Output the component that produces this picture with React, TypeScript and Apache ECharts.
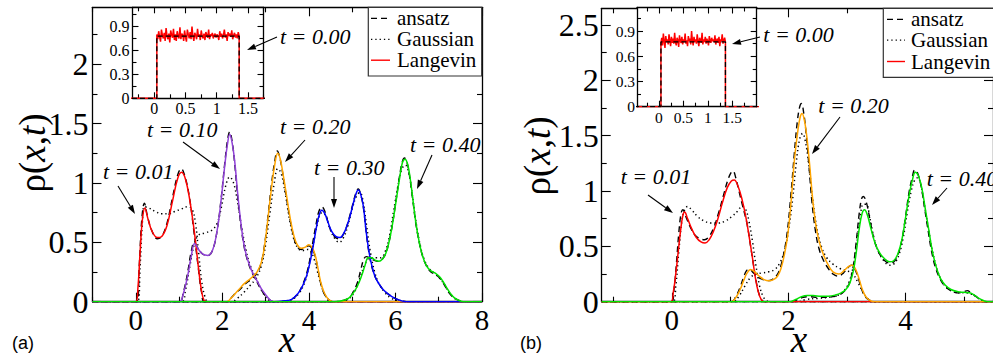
import React, { useEffect, useRef } from 'react';
import * as echarts from 'echarts';

type P = [number, number];

// ---------- Panel (a) data ----------
const aLang001: P[] = [[-1,0],[0,0],[0.05,0.12],[0.1,0.42],[0.15,0.68],[0.21,0.79],[0.28,0.7],[0.38,0.59],[0.5,0.54],[0.6,0.55],[0.72,0.64],[0.85,0.85],[0.97,1.04],[1.06,1.09],[1.15,1.03],[1.25,0.85],[1.36,0.57],[1.45,0.28],[1.52,0.09],[1.58,0.01],[1.65,0],[8,0]];
const aAns001: P[] = [[-1,0],[0.02,0],[0.08,0.3],[0.14,0.7],[0.2,0.83],[0.27,0.72],[0.37,0.6],[0.5,0.53],[0.6,0.55],[0.72,0.66],[0.85,0.88],[0.97,1.07],[1.05,1.12],[1.14,1.05],[1.24,0.88],[1.34,0.6],[1.44,0.3],[1.52,0.08],[1.6,0],[8,0]];
const aGau001: P[] = [[-1,0],[0.04,0],[0.1,0.3],[0.15,0.65],[0.2,0.8],[0.3,0.79],[0.45,0.76],[0.6,0.74],[0.75,0.74],[0.9,0.76],[1.05,0.78],[1.2,0.8],[1.3,0.78],[1.38,0.66],[1.45,0.42],[1.52,0.18],[1.6,0.04],[1.68,0],[8,0]];

const aLang010: P[] = [[-1,0],[1.0,0],[1.1,0.07],[1.2,0.22],[1.28,0.38],[1.36,0.49],[1.45,0.44],[1.55,0.4],[1.67,0.39],[1.78,0.44],[1.88,0.6],[1.97,0.85],[2.06,1.16],[2.12,1.33],[2.17,1.41],[2.23,1.33],[2.29,1.17],[2.35,0.93],[2.42,0.69],[2.5,0.48],[2.58,0.36],[2.68,0.26],[2.78,0.19],[2.9,0.11],[3.02,0.05],[3.12,0.01],[3.2,0],[8,0]];
const aAns010: P[] = [[-1,0],[1.0,0],[1.1,0.08],[1.2,0.25],[1.28,0.42],[1.35,0.5],[1.44,0.45],[1.55,0.4],[1.67,0.39],[1.78,0.44],[1.88,0.6],[1.97,0.86],[2.06,1.18],[2.12,1.36],[2.17,1.43],[2.23,1.34],[2.29,1.15],[2.35,0.9],[2.42,0.67],[2.5,0.47],[2.58,0.35],[2.68,0.25],[2.78,0.18],[2.9,0.1],[3.02,0.04],[3.12,0.01],[3.2,0],[8,0]];
const aGau010: P[] = [[-1,0],[1.05,0],[1.15,0.1],[1.25,0.3],[1.35,0.48],[1.45,0.56],[1.6,0.58],[1.75,0.6],[1.88,0.66],[1.98,0.8],[2.08,0.98],[2.17,1.05],[2.26,1.0],[2.35,0.84],[2.45,0.62],[2.55,0.43],[2.65,0.3],[2.78,0.2],[2.9,0.1],[3.02,0.03],[3.12,0],[8,0]];

const aLang020: P[] = [[-1,0],[2.1,0],[2.2,0.03],[2.3,0.07],[2.4,0.11],[2.5,0.15],[2.6,0.18],[2.7,0.21],[2.8,0.25],[2.9,0.33],[2.98,0.48],[3.06,0.72],[3.14,0.97],[3.21,1.15],[3.28,1.25],[3.34,1.2],[3.41,1.06],[3.49,0.88],[3.57,0.7],[3.65,0.56],[3.73,0.48],[3.82,0.45],[3.92,0.46],[4.0,0.48],[4.07,0.46],[4.14,0.4],[4.2,0.3],[4.27,0.17],[4.35,0.08],[4.45,0.02],[4.55,0],[8,0]];
const aAns020: P[] = [[-1,0],[2.12,0],[2.2,0.03],[2.3,0.07],[2.4,0.1],[2.5,0.14],[2.6,0.17],[2.7,0.2],[2.8,0.24],[2.9,0.33],[2.98,0.49],[3.06,0.74],[3.14,1.0],[3.21,1.18],[3.27,1.27],[3.33,1.21],[3.4,1.07],[3.48,0.88],[3.56,0.7],[3.64,0.56],[3.72,0.47],[3.82,0.44],[3.92,0.46],[4.0,0.47],[4.07,0.45],[4.14,0.39],[4.2,0.29],[4.27,0.16],[4.35,0.07],[4.45,0.02],[4.55,0],[8,0]];
const aGau020: P[] = [[-1,0],[2.2,0],[2.35,0.03],[2.5,0.08],[2.65,0.14],[2.78,0.2],[2.9,0.3],[3.0,0.48],[3.1,0.75],[3.2,1.0],[3.28,1.12],[3.36,1.08],[3.45,0.92],[3.55,0.7],[3.65,0.53],[3.75,0.45],[3.85,0.43],[3.95,0.44],[4.03,0.43],[4.12,0.36],[4.2,0.25],[4.3,0.12],[4.4,0.04],[4.5,0],[8,0]];

const aLang030: P[] = [[-1,0],[3.2,0],[3.4,0.005],[3.6,0.02],[3.75,0.07],[3.85,0.13],[3.95,0.22],[4.03,0.34],[4.1,0.47],[4.17,0.62],[4.23,0.72],[4.3,0.77],[4.37,0.74],[4.45,0.66],[4.53,0.59],[4.62,0.55],[4.72,0.54],[4.81,0.58],[4.88,0.64],[4.95,0.72],[5.02,0.82],[5.09,0.91],[5.14,0.94],[5.2,0.9],[5.26,0.8],[5.32,0.6],[5.38,0.44],[5.45,0.31],[5.53,0.21],[5.62,0.15],[5.72,0.1],[5.85,0.06],[5.98,0.03],[6.12,0.01],[6.25,0],[8,0]];
const aAns030: P[] = [[-1,0],[3.2,0],[3.4,0.005],[3.6,0.02],[3.75,0.07],[3.85,0.14],[3.95,0.24],[4.03,0.37],[4.1,0.52],[4.17,0.66],[4.23,0.76],[4.3,0.8],[4.37,0.76],[4.45,0.66],[4.53,0.58],[4.62,0.54],[4.7,0.53],[4.8,0.57],[4.88,0.64],[4.95,0.73],[5.02,0.83],[5.09,0.92],[5.14,0.95],[5.2,0.9],[5.26,0.79],[5.32,0.6],[5.38,0.43],[5.45,0.3],[5.53,0.21],[5.62,0.15],[5.72,0.1],[5.85,0.06],[5.98,0.03],[6.12,0.01],[6.25,0],[8,0]];
const aGau030: P[] = [[-1,0],[3.3,0],[3.55,0.01],[3.75,0.06],[3.9,0.16],[4.0,0.3],[4.1,0.48],[4.2,0.66],[4.3,0.75],[4.38,0.73],[4.48,0.62],[4.6,0.53],[4.7,0.5],[4.8,0.54],[4.9,0.64],[5.0,0.78],[5.1,0.89],[5.18,0.92],[5.25,0.85],[5.33,0.65],[5.42,0.42],[5.52,0.25],[5.62,0.15],[5.75,0.08],[5.9,0.03],[6.05,0.01],[6.2,0],[8,0]];

const aLang040: P[] = [[-1,0],[4.6,0],[4.79,0.01],[4.92,0.03],[5.02,0.07],[5.12,0.13],[5.22,0.22],[5.3,0.31],[5.37,0.37],[5.45,0.37],[5.53,0.35],[5.62,0.34],[5.7,0.36],[5.78,0.41],[5.85,0.5],[5.93,0.65],[6.02,0.86],[6.1,1.05],[6.16,1.17],[6.22,1.2],[6.28,1.16],[6.34,1.04],[6.4,0.87],[6.47,0.67],[6.55,0.5],[6.63,0.38],[6.72,0.3],[6.82,0.26],[6.92,0.24],[7.02,0.21],[7.1,0.17],[7.18,0.12],[7.27,0.07],[7.37,0.03],[7.47,0.01],[7.57,0],[8,0]];
const aAns040: P[] = [[-1,0],[4.6,0],[4.79,0.01],[4.92,0.03],[5.02,0.08],[5.12,0.16],[5.2,0.27],[5.27,0.36],[5.33,0.38],[5.4,0.37],[5.5,0.35],[5.6,0.34],[5.7,0.36],[5.78,0.41],[5.85,0.5],[5.93,0.65],[6.02,0.87],[6.1,1.07],[6.16,1.18],[6.21,1.21],[6.27,1.17],[6.33,1.05],[6.4,0.86],[6.47,0.66],[6.55,0.5],[6.63,0.38],[6.72,0.3],[6.82,0.25],[6.92,0.23],[7.02,0.2],[7.1,0.16],[7.18,0.11],[7.27,0.06],[7.37,0.03],[7.47,0.01],[7.57,0],[8,0]];
const aGau040: P[] = [[-1,0],[4.7,0],[4.9,0.02],[5.05,0.08],[5.18,0.2],[5.3,0.32],[5.42,0.37],[5.55,0.37],[5.66,0.37],[5.76,0.42],[5.86,0.55],[5.96,0.77],[6.06,0.98],[6.15,1.12],[6.23,1.15],[6.31,1.08],[6.39,0.9],[6.48,0.66],[6.57,0.48],[6.67,0.35],[6.78,0.28],[6.9,0.24],[7.02,0.2],[7.12,0.15],[7.22,0.09],[7.33,0.04],[7.45,0.01],[7.58,0],[8,0]];

// ---------- Panel (b) data ----------
const bLang001: P[] = [[-1.2,0],[-0.02,0],[0.03,0.1],[0.07,0.26],[0.11,0.45],[0.15,0.64],[0.19,0.78],[0.22,0.81],[0.27,0.75],[0.34,0.66],[0.42,0.58],[0.5,0.54],[0.57,0.53],[0.64,0.56],[0.71,0.63],[0.79,0.75],[0.87,0.9],[0.95,1.03],[1.02,1.09],[1.07,1.1],[1.13,1.05],[1.2,0.93],[1.27,0.76],[1.33,0.57],[1.38,0.4],[1.43,0.22],[1.48,0.09],[1.53,0.02],[1.58,0],[5.5,0]];
const bAns001: P[] = [[-1.2,0],[-0.01,0],[0.04,0.12],[0.08,0.35],[0.12,0.62],[0.16,0.8],[0.19,0.83],[0.24,0.77],[0.32,0.67],[0.4,0.6],[0.48,0.57],[0.56,0.56],[0.64,0.59],[0.72,0.67],[0.8,0.8],[0.88,0.95],[0.96,1.1],[1.02,1.17],[1.05,1.18],[1.09,1.13],[1.15,1.0],[1.22,0.85],[1.29,0.7],[1.35,0.5],[1.4,0.33],[1.45,0.17],[1.5,0.06],[1.55,0.01],[1.6,0],[5.5,0]];
const bGau001: P[] = [[-1.2,0],[0.02,0],[0.07,0.15],[0.12,0.45],[0.17,0.72],[0.22,0.83],[0.27,0.86],[0.34,0.83],[0.44,0.77],[0.55,0.73],[0.67,0.71],[0.8,0.71],[0.92,0.73],[1.03,0.77],[1.13,0.82],[1.2,0.86],[1.26,0.84],[1.32,0.73],[1.38,0.55],[1.44,0.33],[1.5,0.15],[1.56,0.05],[1.62,0.01],[1.68,0],[5.5,0]];

const bLang020: P[] = [[-1.2,0],[1.02,0],[1.1,0.04],[1.17,0.11],[1.23,0.19],[1.29,0.26],[1.35,0.29],[1.42,0.27],[1.5,0.23],[1.58,0.2],[1.66,0.19],[1.74,0.2],[1.81,0.23],[1.87,0.3],[1.93,0.43],[1.99,0.62],[2.05,0.95],[2.1,1.28],[2.16,1.55],[2.2,1.67],[2.23,1.7],[2.27,1.64],[2.31,1.5],[2.36,1.24],[2.41,0.94],[2.47,0.68],[2.53,0.53],[2.6,0.42],[2.68,0.33],[2.76,0.27],[2.86,0.25],[2.95,0.28],[3.03,0.32],[3.09,0.33],[3.15,0.29],[3.21,0.2],[3.27,0.1],[3.33,0.04],[3.4,0.01],[3.47,0],[5.5,0]];
const bAns020: P[] = [[-1.2,0],[1.02,0],[1.1,0.05],[1.17,0.13],[1.23,0.22],[1.28,0.28],[1.33,0.29],[1.4,0.26],[1.48,0.22],[1.56,0.2],[1.64,0.19],[1.72,0.2],[1.8,0.24],[1.86,0.31],[1.92,0.44],[1.98,0.64],[2.04,0.97],[2.1,1.35],[2.15,1.63],[2.19,1.76],[2.22,1.79],[2.26,1.7],[2.3,1.52],[2.35,1.22],[2.4,0.9],[2.46,0.64],[2.52,0.48],[2.6,0.37],[2.68,0.3],[2.76,0.25],[2.85,0.23],[2.94,0.26],[3.02,0.31],[3.08,0.33],[3.14,0.29],[3.2,0.2],[3.26,0.1],[3.32,0.04],[3.4,0.01],[3.47,0],[5.5,0]];
const bGau020: P[] = [[-1.2,0],[1.05,0],[1.15,0.05],[1.25,0.14],[1.35,0.22],[1.45,0.25],[1.55,0.26],[1.66,0.27],[1.76,0.29],[1.85,0.35],[1.93,0.46],[2.0,0.65],[2.07,0.93],[2.13,1.25],[2.19,1.47],[2.24,1.52],[2.29,1.44],[2.35,1.22],[2.41,0.94],[2.48,0.68],[2.56,0.5],[2.65,0.4],[2.76,0.34],[2.88,0.3],[3.0,0.28],[3.1,0.25],[3.19,0.17],[3.27,0.09],[3.35,0.03],[3.43,0],[5.5,0]];

const bLang040: P[] = [[-1.2,0],[2.03,0],[2.12,0.02],[2.22,0.045],[2.32,0.055],[2.42,0.055],[2.55,0.05],[2.68,0.05],[2.8,0.06],[2.9,0.08],[2.98,0.11],[3.05,0.17],[3.11,0.28],[3.16,0.45],[3.21,0.66],[3.26,0.8],[3.3,0.83],[3.35,0.78],[3.41,0.66],[3.48,0.53],[3.56,0.44],[3.64,0.39],[3.73,0.36],[3.8,0.37],[3.87,0.43],[3.94,0.56],[4.0,0.75],[4.06,0.95],[4.12,1.1],[4.17,1.17],[4.22,1.14],[4.28,1.03],[4.34,0.84],[4.4,0.65],[4.46,0.46],[4.53,0.31],[4.6,0.21],[4.68,0.15],[4.78,0.11],[4.9,0.09],[5.0,0.085],[5.1,0.08],[5.18,0.06],[5.26,0.03],[5.34,0.01],[5.4,0],[5.5,0]];
const bAns040: P[] = [[-1.2,0],[2.05,0],[2.15,0.02],[2.25,0.04],[2.35,0.045],[2.5,0.04],[2.65,0.04],[2.8,0.05],[2.9,0.07],[2.98,0.11],[3.05,0.18],[3.11,0.33],[3.16,0.55],[3.21,0.8],[3.25,0.93],[3.28,0.95],[3.33,0.9],[3.39,0.75],[3.46,0.57],[3.54,0.45],[3.63,0.38],[3.72,0.35],[3.8,0.36],[3.87,0.42],[3.94,0.56],[4.0,0.76],[4.06,0.98],[4.12,1.13],[4.16,1.19],[4.21,1.16],[4.27,1.04],[4.33,0.84],[4.39,0.64],[4.45,0.45],[4.52,0.3],[4.6,0.2],[4.68,0.14],[4.78,0.1],[4.9,0.08],[5.0,0.09],[5.06,0.1],[5.12,0.08],[5.2,0.05],[5.28,0.02],[5.36,0],[5.5,0]];
const bGau040: P[] = [[-1.2,0],[2.15,0],[2.3,0.02],[2.5,0.03],[2.7,0.04],[2.85,0.06],[2.95,0.1],[3.03,0.17],[3.1,0.3],[3.16,0.5],[3.22,0.74],[3.28,0.88],[3.33,0.88],[3.39,0.76],[3.46,0.58],[3.54,0.45],[3.63,0.37],[3.72,0.33],[3.8,0.34],[3.88,0.41],[3.96,0.57],[4.03,0.8],[4.1,1.0],[4.16,1.1],[4.21,1.12],[4.27,1.04],[4.33,0.86],[4.4,0.64],[4.47,0.44],[4.55,0.28],[4.63,0.18],[4.72,0.12],[4.82,0.09],[4.93,0.08],[5.03,0.08],[5.12,0.07],[5.2,0.05],[5.28,0.02],[5.36,0],[5.5,0]];

// ---------- Insets (t = 0.00) ----------
const insetEdges: P = [0.04, 1.36];
const insetStepA = 0.78;
const insetStepB = 0.77;
const noiseA = [0.80,0.74,0.84,0.77,0.71,0.86,0.79,0.75,0.82,0.72,0.88,0.78,0.74,0.81,0.70,0.85,0.79,0.76,0.87,0.73,0.80,0.72,0.84,0.78,0.75,0.89,0.74,0.81,0.79,0.72,0.85,0.77,0.71,0.86,0.80,0.75,0.83,0.74,0.90,0.78,0.72,0.82,0.79,0.74,0.87,0.77,0.80,0.73,0.85,0.78,0.75,0.81,0.73,0.83,0.79,0.76,0.86,0.74,0.80,0.78,0.82,0.75,0.79,0.81,0.76,0.80,0.78,0.73,0.84,0.77,0.81,0.75,0.79,0.86,0.76,0.80,0.72,0.83,0.78,0.81,0.77,0.85,0.74,0.79,0.82,0.76,0.80,0.75,0.83,0.78];
const noiseB = [0.76,0.82,0.73,0.87,0.78,0.70,0.84,0.77,0.80,0.74,0.86,0.79,0.72,0.83,0.76,0.81,0.75,0.88,0.77,0.73,0.82,0.79,0.71,0.85,0.78,0.76,0.83,0.74,0.80,0.77,0.87,0.75,0.79,0.72,0.84,0.78,0.81,0.74,0.90,0.79,0.73,0.83,0.77,0.80,0.75,0.86,0.78,0.72,0.82,0.79,0.76,0.88,0.74,0.80,0.77,0.83,0.75,0.81,0.78,0.73,0.84,0.79,0.76,0.82,0.78,0.80,0.77,0.85,0.74,0.79,0.81,0.76,0.83,0.72,0.80,0.78,0.86,0.75,0.79,0.82,0.77];

// ---------- Ticks ----------
const aXLabels = [0, 2, 4, 6, 8];
const aXMinor = [-1, 1, 3, 5, 7];
const aYLabels = [0, 0.5, 1, 1.5, 2];
const aYMinor = [0.25, 0.75, 1.25, 1.75, 2.25];
const bXLabels = [0, 2, 4];
const bXMinor = [-1, 1, 3, 5];
const bYLabels = [0, 0.5, 1, 1.5, 2, 2.5];
const bYMinor = [0.25, 0.75, 1.25, 1.75, 2.25];
const inXLabels = [0, 0.5, 1, 1.5];
const inXMinor = [-0.25, 0.25, 0.75, 1.25, 1.75];
const inYLabels = [0, 0.3, 0.6, 0.9];
const inYMinor = [0.15, 0.45, 0.75, 1.05];

const FAM = 'Liberation Serif';
const SERIF = '"Liberation Serif", serif';
const C = { red: '#ff0000', purple: '#9040d8', orange: '#ffa500', blue: '#0000ff', green: '#00e400' };

function axisSet(kind: 'x' | 'y', gridIndex: number, min: number, max: number, labels: number[], minors: number[],
  fontSize: number, margin: number, majorLen: number, minorLen: number, z: number) {
  const posA = kind === 'x' ? 'bottom' : 'left';
  const posB = kind === 'x' ? 'top' : 'right';
  const mk = (position: string, showLine: boolean, ticks: number[], len: number, showLabels: boolean) => ({
    type: 'value', gridIndex, min, max, position, z,
    axisLine: { show: showLine, onZero: false, lineStyle: { color: '#000', width: 1.3 } },
    axisTick: { show: true, inside: true, length: len, customValues: ticks, lineStyle: { color: '#000', width: 1.1 } },
    axisLabel: showLabels
      ? { show: true, customValues: labels, fontFamily: FAM, fontSize, color: '#000', margin }
      : { show: false },
    splitLine: { show: false },
    minorTick: { show: false },
  });
  return [
    mk(posA, true, labels, majorLen, true),
    mk(posA, false, minors, minorLen, false),
    mk(posB, true, labels, majorLen, false),
    mk(posB, false, minors, minorLen, false),
  ];
}

function curve(name: string, data: P[], g: number, kind: 'L' | 'A' | 'G', color: string, z: number, smooth: number | boolean = 0.4) {
  const lineStyle: any =
    kind === 'L' ? { color, width: 1.5 } :
    kind === 'A' ? { color: '#000', width: 1.4, type: [6, 4] } :
    { color: '#000', width: 1.5, type: [1.3, 3] };
  return {
    type: 'line', name, data, xAxisIndex: 4 * g, yAxisIndex: 4 * g,
    showSymbol: false, symbol: 'none', smooth, clip: true, silent: true, z,
    lineStyle,
  };
}

function insetLangevin(noise: number[]): P[] {
  const [x0, x1] = insetEdges;
  const pts: P[] = [[-1, 0], [x0, 0]];
  noise.forEach((v, i) => pts.push([x0 + (x1 - x0) * i / (noise.length - 1), v]));
  pts.push([x1, 0], [3, 0]);
  return pts;
}
function insetStep(v: number): P[] {
  const [x0, x1] = insetEdges;
  return [[-1, 0], [x0, 0], [x0, v], [x1, v], [x1, 0], [3, 0]];
}

function arrow(x1: number, y1: number, x2: number, y2: number) {
  const ang = Math.atan2(y2 - y1, x2 - x1);
  const L = 9, W = 3;
  const bx = x2 - L * Math.cos(ang), by = y2 - L * Math.sin(ang);
  const px = -Math.sin(ang) * W, py = Math.cos(ang) * W;
  return [
    { type: 'line', z: 20, shape: { x1, y1, x2: bx, y2: by }, style: { stroke: '#000', lineWidth: 1.1 } },
    { type: 'polygon', z: 20, shape: { points: [[x2, y2], [bx + px, by + py], [bx - px, by - py]] }, style: { fill: '#000' } },
  ];
}

function label(text: string, x: number, y: number, font: string, align = 'left') {
  return {
    type: 'text', z: 20, x, y,
    style: { text, font, fill: '#000', textAlign: align, align, textVerticalAlign: 'middle', verticalAlign: 'middle' },
  };
}

function legend(x: number, y: number, w: number, h: number, rows: number[], lx0: number, lx1: number, tx: number) {
  const f = '21px ' + SERIF;
  return [
    { type: 'rect', z: 20, shape: { x, y, width: w, height: h }, style: { fill: '#fff', stroke: '#333', lineWidth: 1.2 } },
    { type: 'line', z: 21, shape: { x1: lx0, y1: rows[0], x2: lx1, y2: rows[0] }, style: { stroke: '#000', lineWidth: 1.3, lineDash: [6, 4] } },
    { type: 'line', z: 21, shape: { x1: lx0, y1: rows[1], x2: lx1, y2: rows[1] }, style: { stroke: '#000', lineWidth: 1.3, lineDash: [1.3, 3] } },
    { type: 'line', z: 21, shape: { x1: lx0, y1: rows[2], x2: lx1, y2: rows[2] }, style: { stroke: C.red, lineWidth: 1.4 } },
    { ...label('ansatz', tx, rows[0], f), z: 21 },
    { ...label('Gaussian', tx, rows[1], f), z: 21 },
    { ...label('Langevin', tx, rows[2], f), z: 21 },
  ];
}

function yTitle(x: number, y: number) {
  return {
    type: 'text', z: 20, x, y, rotation: Math.PI / 2,
    style: {
      text: '{a|ρ(}{b|x}{a|,}{b|t}{a|)}',
      rich: {
        a: { fontFamily: FAM, fontSize: 37, fill: '#000' },
        b: { fontFamily: FAM, fontStyle: 'italic', fontSize: 37, fill: '#000' },
      },
      textAlign: 'center', align: 'center', textVerticalAlign: 'middle', verticalAlign: 'middle',
    },
  };
}

export default function App() {
  const ref = useRef<HTMLDivElement>(null);
  useEffect(() => {
    if (!ref.current) return;
    const chart = echarts.init(ref.current, null, { renderer: 'svg' });
    const grids = [
      { left: 92.5, top: 7.3, width: 389.5, height: 294.4, show: false, z: 0 },
      { left: 132.5, top: 7.3, width: 131, height: 91, show: true, backgroundColor: '#fff', borderWidth: 0, z: 3 },
      { left: 601.7, top: 8.3, width: 395.5, height: 293.4, show: false, z: 0 },
      { left: 637, top: 7.5, width: 119.7, height: 99.2, show: true, backgroundColor: '#fff', borderWidth: 0, z: 3 },
    ];
    const xAxis = [
      ...axisSet('x', 0, -1, 8, aXLabels, aXMinor, 29, 4, 9, 5, 0),
      ...axisSet('x', 1, -0.35, 1.75, inXLabels, inXMinor, 16, 2, 6, 4, 4),
      ...axisSet('x', 2, -1.2, 5.5, bXLabels, bXMinor, 29, 4, 9, 5, 0),
      ...axisSet('x', 3, -0.45, 2.0, inXLabels, inXMinor, 15.5, 3, 6, 4, 4),
    ];
    const yAxis = [
      ...axisSet('y', 0, 0, 2.48, aYLabels, aYMinor, 32, 4, 9, 5, 0),
      ...axisSet('y', 1, 0, 1.14, inYLabels, inYMinor, 16, 3, 6, 4, 4),
      ...axisSet('y', 2, 0, 2.65, bYLabels, bYMinor, 32, 3, 9, 5, 0),
      ...axisSet('y', 3, 0, 1.18, inYLabels, inYMinor, 15.5, 2, 6, 4, 4),
    ];
    const series: any[] = [
      curve('ansatz t=0.01 (a)', aAns001, 0, 'A', '#000', 2),
      curve('ansatz t=0.10 (a)', aAns010, 0, 'A', '#000', 2),
      curve('ansatz t=0.20 (a)', aAns020, 0, 'A', '#000', 2),
      curve('ansatz t=0.30 (a)', aAns030, 0, 'A', '#000', 2),
      curve('ansatz t=0.40 (a)', aAns040, 0, 'A', '#000', 2),
      curve('Gaussian t=0.01 (a)', aGau001, 0, 'G', '#000', 2),
      curve('Gaussian t=0.10 (a)', aGau010, 0, 'G', '#000', 2),
      curve('Gaussian t=0.20 (a)', aGau020, 0, 'G', '#000', 2),
      curve('Gaussian t=0.30 (a)', aGau030, 0, 'G', '#000', 2),
      curve('Gaussian t=0.40 (a)', aGau040, 0, 'G', '#000', 2),
      curve('Langevin t=0.01 (a)', aLang001, 0, 'L', C.red, 3),
      curve('Langevin t=0.10 (a)', aLang010, 0, 'L', C.purple, 3),
      curve('Langevin t=0.20 (a)', aLang020, 0, 'L', C.orange, 3),
      curve('Langevin t=0.30 (a)', aLang030, 0, 'L', C.blue, 3),
      curve('Langevin t=0.40 (a)', aLang040, 0, 'L', C.green, 3),
      curve('Langevin t=0.00 (a)', insetLangevin(noiseA), 1, 'L', C.red, 5, false),
      { ...curve('ansatz t=0.00 (a)', insetStep(insetStepA), 1, 'A', '#000', 6, false), lineStyle: { color: '#000', width: 1.3, type: [5, 3] } },
      curve('ansatz t=0.01 (b)', bAns001, 2, 'A', '#000', 2),
      curve('ansatz t=0.20 (b)', bAns020, 2, 'A', '#000', 2),
      curve('ansatz t=0.40 (b)', bAns040, 2, 'A', '#000', 2),
      curve('Gaussian t=0.01 (b)', bGau001, 2, 'G', '#000', 2),
      curve('Gaussian t=0.20 (b)', bGau020, 2, 'G', '#000', 2),
      curve('Gaussian t=0.40 (b)', bGau040, 2, 'G', '#000', 2),
      curve('Langevin t=0.01 (b)', bLang001, 2, 'L', C.red, 3),
      curve('Langevin t=0.20 (b)', bLang020, 2, 'L', C.orange, 3),
      curve('Langevin t=0.40 (b)', bLang040, 2, 'L', C.green, 3),
      curve('Langevin t=0.00 (b)', insetLangevin(noiseB), 3, 'L', C.red, 5, false),
      { ...curve('ansatz t=0.00 (b)', insetStep(insetStepB), 3, 'A', '#000', 6, false), lineStyle: { color: '#000', width: 1.3, type: [5, 3] } },
    ];
    const lf = 'italic 22px ' + SERIF;
    const graphic: any[] = [
      ...legend(368.3, 7.3, 113.4, 68.7, [18.3, 39.3, 60.2], 371, 390, 397),
      ...legend(883.3, 8.3, 120, 69, [19.3, 40.2, 61.5], 887, 905, 911),
      label('t = 0.01', 103, 171, lf), ...arrow(118, 186, 135, 214),
      label('t = 0.10', 147, 129, lf), ...arrow(183, 142, 220, 169),
      label('t = 0.20', 280, 126, lf), ...arrow(305, 140, 285, 162),
      label('t = 0.30', 314, 167, lf), ...arrow(334, 177, 334, 208),
      label('t = 0.40', 410, 144, lf), ...arrow(432, 155, 417, 189),
      label('t = 0.00', 280, 36, lf), ...arrow(277, 37, 247, 50),
      label('t = 0.01', 620.7, 176, lf), ...arrow(648, 195, 673, 213),
      label('t = 0.20', 818.3, 105.5, lf), ...arrow(840, 117, 812, 154),
      label('t = 0.40', 926.7, 178, lf), ...arrow(947, 188, 932, 205),
      label('t = 0.00', 763.3, 34, lf), ...arrow(760, 37, 732, 44),
      yTitle(32, 153),
      yTitle(537, 156),
      label('x', 287, 339, 'italic 37px ' + SERIF, 'center'),
      label('x', 799, 339, 'italic 37px ' + SERIF, 'center'),
      label('(a)', 12, 343, '18px "Liberation Sans", sans-serif'),
      label('(b)', 520, 343, '18px "Liberation Sans", sans-serif'),
    ];
    chart.setOption({
      animation: false,
      backgroundColor: '#fff',
      grid: grids,
      xAxis,
      yAxis,
      series,
      graphic,
    } as any);
    return () => chart.dispose();
  }, []);
  return <div ref={ref} style={{ position: 'fixed', left: 0, top: 0, width: 993, height: 360, background: '#fff' }} />;
}
